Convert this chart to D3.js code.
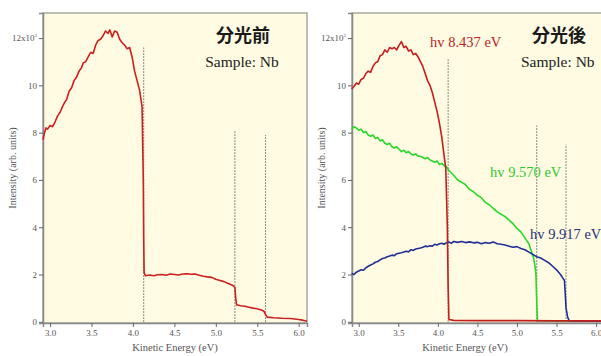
<!DOCTYPE html>
<html>
<head>
<meta charset="utf-8">
<script src="https://cdn.jsdelivr.net/npm/d3@7"></script>
<style>
  body { margin: 0; background: #fff; }
  svg { display: block; }
  text { font-family: "Liberation Serif", "DejaVu Serif", serif; }
</style>
</head>
<body>
<script>
const W = 601, H = 356;

// ---- data ----
const yTicks = [0, 2, 4, 6, 8, 10, 12];
const xTicks = [3.0, 3.5, 4.0, 4.5, 5.0, 5.5, 6.0];

// before monochromator (分光前)
const beforeE = [2.915, 2.93, 2.95, 2.97, 3.0, 3.03, 3.06, 3.09, 3.12, 3.15, 3.18, 3.2, 3.23, 3.26, 3.29, 3.32, 3.35, 3.38, 3.4, 3.43, 3.46, 3.49, 3.52, 3.55, 3.58, 3.61, 3.64, 3.67, 3.70, 3.72, 3.75, 3.78, 3.81, 3.84, 3.87, 3.90, 3.93, 3.96, 3.99, 4.02, 4.05, 4.08, 4.11, 4.125, 4.13, 4.135, 4.15, 4.2, 4.25, 4.3, 4.35, 4.4, 4.45, 4.5, 4.55, 4.6, 4.65, 4.7, 4.75, 4.8, 4.85, 4.9, 4.95, 5.0, 5.05, 5.1, 5.15, 5.2, 5.23, 5.24, 5.25, 5.3, 5.35, 5.4, 5.45, 5.5, 5.55, 5.58, 5.6, 5.62, 5.7, 5.8, 5.9, 6.0, 6.05, 6.1];
const beforeI = [7.7, 7.95, 8.2, 8.15, 8.3, 8.25, 8.45, 8.7, 8.85, 9.1, 9.3, 9.4, 9.75, 9.9, 10.2, 10.35, 10.6, 10.75, 10.95, 11.0, 11.2, 11.4, 11.35, 11.7, 11.9, 11.95, 12.1, 12.3, 12.2, 12.35, 12.05, 12.3, 12.25, 11.95, 11.8, 11.7, 11.55, 11.6, 11.2, 10.6, 10.2, 9.8, 9.1, 6.0, 3.5, 2.1, 1.95, 1.98, 1.95, 1.99, 2.0, 1.97, 2.02, 2.0, 1.98, 2.02, 2.03, 2.01, 2.02, 1.97, 1.93, 1.9, 1.88, 1.8, 1.75, 1.7, 1.62, 1.55, 1.45, 1.0, 0.72, 0.68, 0.66, 0.62, 0.58, 0.55, 0.5, 0.45, 0.3, 0.2, 0.17, 0.15, 0.14, 0.1, 0.07, 0.02];

// after monochromator (分光後): hv 8.437 eV
const redE = [2.91, 2.94, 2.97, 3.0, 3.03, 3.06, 3.09, 3.12, 3.15, 3.18, 3.21, 3.24, 3.27, 3.3, 3.33, 3.36, 3.39, 3.42, 3.45, 3.48, 3.51, 3.54, 3.57, 3.60, 3.63, 3.66, 3.69, 3.72, 3.75, 3.78, 3.81, 3.84, 3.87, 3.90, 3.93, 3.96, 3.99, 4.02, 4.05, 4.08, 4.1, 4.12, 4.13, 4.14, 4.2, 4.5, 5.0, 5.5, 6.1];
const redI = [9.85, 9.95, 10.1, 10.05, 10.25, 10.3, 10.5, 10.6, 10.55, 10.8, 10.95, 11.0, 11.25, 11.3, 11.5, 11.4, 11.6, 11.55, 11.6, 11.5, 11.7, 11.85, 11.6, 11.65, 11.45, 11.5, 11.3, 11.35, 11.2, 11.0, 10.8, 10.5, 10.2, 10.0, 9.7, 9.3, 8.9, 8.4, 7.8, 7.0, 6.5, 4.0, 1.5, 0.1, 0.06, 0.05, 0.05, 0.04, 0.04];

// hv 9.570 eV
const greenE = [2.91, 2.94, 2.97, 3.0, 3.03, 3.06, 3.09, 3.12, 3.15, 3.18, 3.21, 3.24, 3.27, 3.3, 3.33, 3.36, 3.39, 3.42, 3.45, 3.48, 3.51, 3.54, 3.57, 3.6, 3.63, 3.66, 3.69, 3.72, 3.75, 3.78, 3.81, 3.84, 3.87, 3.9, 3.93, 3.96, 3.99, 4.02, 4.05, 4.08, 4.11, 4.14, 4.2, 4.25, 4.3, 4.35, 4.4, 4.45, 4.5, 4.55, 4.6, 4.65, 4.7, 4.75, 4.8, 4.85, 4.9, 4.95, 5.0, 5.05, 5.1, 5.15, 5.18, 5.21, 5.23, 5.24, 5.25, 5.26, 5.4, 6.1];
const greenI = [8.15, 8.25, 8.2, 8.1, 8.15, 8.0, 8.05, 7.9, 7.85, 7.9, 7.75, 7.8, 7.65, 7.7, 7.55, 7.5, 7.55, 7.4, 7.35, 7.4, 7.3, 7.2, 7.25, 7.15, 7.2, 7.1, 7.05, 7.1, 7.0, 7.0, 6.95, 6.9, 6.95, 6.85, 6.8, 6.75, 6.8, 6.65, 6.7, 6.6, 6.55, 6.4, 6.2, 6.0, 5.9, 5.8, 5.6, 5.5, 5.35, 5.25, 5.05, 4.95, 4.8, 4.65, 4.55, 4.45, 4.3, 4.15, 3.95, 3.8, 3.55, 3.3, 3.0, 2.7, 2.3, 2.0, 0.8, 0.05, 0.04, 0.03];

// hv 9.917 eV
const blueE = [2.91, 2.94, 2.97, 3.0, 3.03, 3.06, 3.09, 3.12, 3.15, 3.18, 3.21, 3.24, 3.27, 3.3, 3.33, 3.36, 3.39, 3.42, 3.45, 3.48, 3.51, 3.54, 3.57, 3.6, 3.63, 3.66, 3.69, 3.72, 3.75, 3.78, 3.81, 3.84, 3.87, 3.9, 3.93, 3.96, 3.99, 4.02, 4.05, 4.08, 4.11, 4.14, 4.17, 4.2, 4.25, 4.3, 4.35, 4.4, 4.45, 4.5, 4.55, 4.6, 4.65, 4.7, 4.75, 4.8, 4.85, 4.9, 4.95, 5.0, 5.05, 5.1, 5.15, 5.2, 5.25, 5.3, 5.35, 5.4, 5.45, 5.5, 5.55, 5.58, 5.6, 5.61, 5.62, 5.64, 5.66, 5.8, 6.1];
const blueI = [2.05, 2.0, 2.1, 2.15, 2.2, 2.18, 2.28, 2.35, 2.4, 2.45, 2.52, 2.55, 2.62, 2.68, 2.7, 2.75, 2.78, 2.82, 2.8, 2.88, 2.9, 2.92, 2.95, 2.98, 2.96, 3.05, 3.02, 3.08, 3.1, 3.12, 3.15, 3.2, 3.18, 3.22, 3.2, 3.28, 3.25, 3.3, 3.32, 3.28, 3.35, 3.38, 3.32, 3.4, 3.36, 3.4, 3.35, 3.38, 3.34, 3.36, 3.3, 3.35, 3.32, 3.38, 3.3, 3.28, 3.25, 3.2, 3.15, 3.18, 3.1, 3.05, 2.95, 2.85, 2.75, 2.7, 2.6, 2.5, 2.35, 2.2, 2.0, 1.85, 1.75, 1.2, 0.6, 0.2, 0.05, 0.04, 0.03];

// cutoff markers: energy and height of each dotted line
const beforeCutE = [4.13, 5.23, 5.60];
const beforeCutTop = [11.6, 8.1, 7.9];
const afterCutE = [4.13, 5.25, 5.62];
const afterCutTop = [11.1, 8.3, 7.5];

const svg = d3.select("body").append("svg")
    .attr("width", W)
    .attr("height", H);

function zip(es, is) {
    return es.map((e, i) => [e, is[i]]);
}

function drawPanel(left, right, cutE, cutTop, labelShift) {
    const top = 13, bottom = 323;
    const x = d3.scaleLinear().domain([2.915, 6.1]).range([left, right]);
    const y = d3.scaleLinear().domain([-0.05, 13.06]).range([bottom, top]);

    const g = svg.append("g");

    g.append("rect")
        .attr("x", left)
        .attr("y", top)
        .attr("width", right - left)
        .attr("height", bottom - top)
        .style("fill", "#fefbe2")
        .style("stroke", "#a8a8a0")
        .style("stroke-width", 1.5);

    // cutoff dotted lines
    g.selectAll(".cut")
        .data(cutE)
        .enter().append("line")
        .attr("x1", d => x(d))
        .attr("x2", d => x(d))
        .attr("y1", y(0))
        .attr("y2", (d, i) => y(cutTop[i]))
        .style("stroke", "#666")
        .style("stroke-width", 1)
        .style("stroke-dasharray", "1.5,1.5");

    const yAxis = g.append("g")
        .attr("transform", `translate(${left},0)`)
        .call(d3.axisLeft(y).tickValues(yTicks).tickSize(4).tickPadding(2)
            .tickFormat(d => d === 12 ? "12x10" : d));
    const xAxis = g.append("g")
        .attr("transform", `translate(0,${bottom})`)
        .call(d3.axisBottom(x).tickValues(xTicks).tickSize(4).tickPadding(3)
            .tickFormat(d3.format(".1f")));

    [xAxis, yAxis].forEach(a => {
        a.select(".domain").style("stroke", "#888").style("stroke-width", 1.5);
        a.selectAll(".tick line").style("stroke", "#666");
        a.selectAll("text")
            .style("font-family", "Liberation Serif, serif")
            .style("font-size", "9px")
            .style("fill", "#555");
    });

    // superscript on 12x10^3
    yAxis.selectAll(".tick")
        .filter(d => d === 12)
        .select("text")
        .append("tspan")
        .attr("dy", "-4")
        .style("font-size", "5px")
        .text("3");

    g.append("text")
        .attr("x", (left + right) / 2 + labelShift)
        .attr("y", 351)
        .attr("text-anchor", "middle")
        .style("font-size", "10.5px")
        .style("fill", "#555")
        .text("Kinetic Energy (eV)");

    g.append("text")
        .attr("transform", `translate(${left - 27},${(top + bottom) / 2}) rotate(-90)`)
        .attr("text-anchor", "middle")
        .style("font-size", "10px")
        .style("fill", "#555")
        .text("Intensity (arb. units)");

    return { g, x, y };
}

function drawLine(p, data, color) {
    const line = d3.line().x(d => p.x(d[0])).y(d => p.y(d[1]));
    p.g.append("path")
        .datum(data)
        .attr("d", line)
        .style("fill", "none")
        .style("stroke", color)
        .style("stroke-width", 1.6)
        .style("stroke-linejoin", "round");
}

function title(p, txt, x) {
    p.g.append("text")
        .attr("x", x).attr("y", 42)
        .attr("text-anchor", "middle")
        .style("font-family", "Noto Sans CJK JP, sans-serif")
        .style("font-weight", "bold")
        .style("font-size", "18px")
        .style("fill", "#1a1a1a")
        .text(txt);
}

// left panel
const pL = drawPanel(43, 307, beforeCutE, beforeCutTop, 0);
drawLine(pL, zip(beforeE, beforeI), "#cc1f1f");
title(pL, "分光前", 243);
pL.g.append("text")
    .attr("x", 242).attr("y", 67)
    .attr("text-anchor", "middle")
    .style("font-size", "15.5px")
    .style("fill", "#222")
    .text("Sample: Nb");

// right panel
const pR = drawPanel(352, 604, afterCutE, afterCutTop, -13);
drawLine(pR, zip(greenE, greenI), "#27d827");
drawLine(pR, zip(blueE, blueI), "#1f2f96");
drawLine(pR, zip(redE, redI), "#c41e1e");
title(pR, "分光後", 559);
pR.g.append("text")
    .attr("x", 521).attr("y", 67)
    .style("font-size", "15.5px")
    .style("fill", "#222")
    .text("Sample: Nb");

const hvLabels = ["hv 8.437 eV", "hv 9.570 eV", "hv 9.917 eV"];
const hvX = [430, 490, 530];
const hvY = [47, 177, 239];
const hvColor = ["#b82424", "#2ec82e", "#27307a"];
pR.g.selectAll(".hv")
    .data(hvLabels)
    .enter().append("text")
    .attr("x", (d, i) => hvX[i])
    .attr("y", (d, i) => hvY[i])
    .style("font-size", "14.5px")
    .style("fill", (d, i) => hvColor[i])
    .text(d => d);
</script>
</body>
</html>
